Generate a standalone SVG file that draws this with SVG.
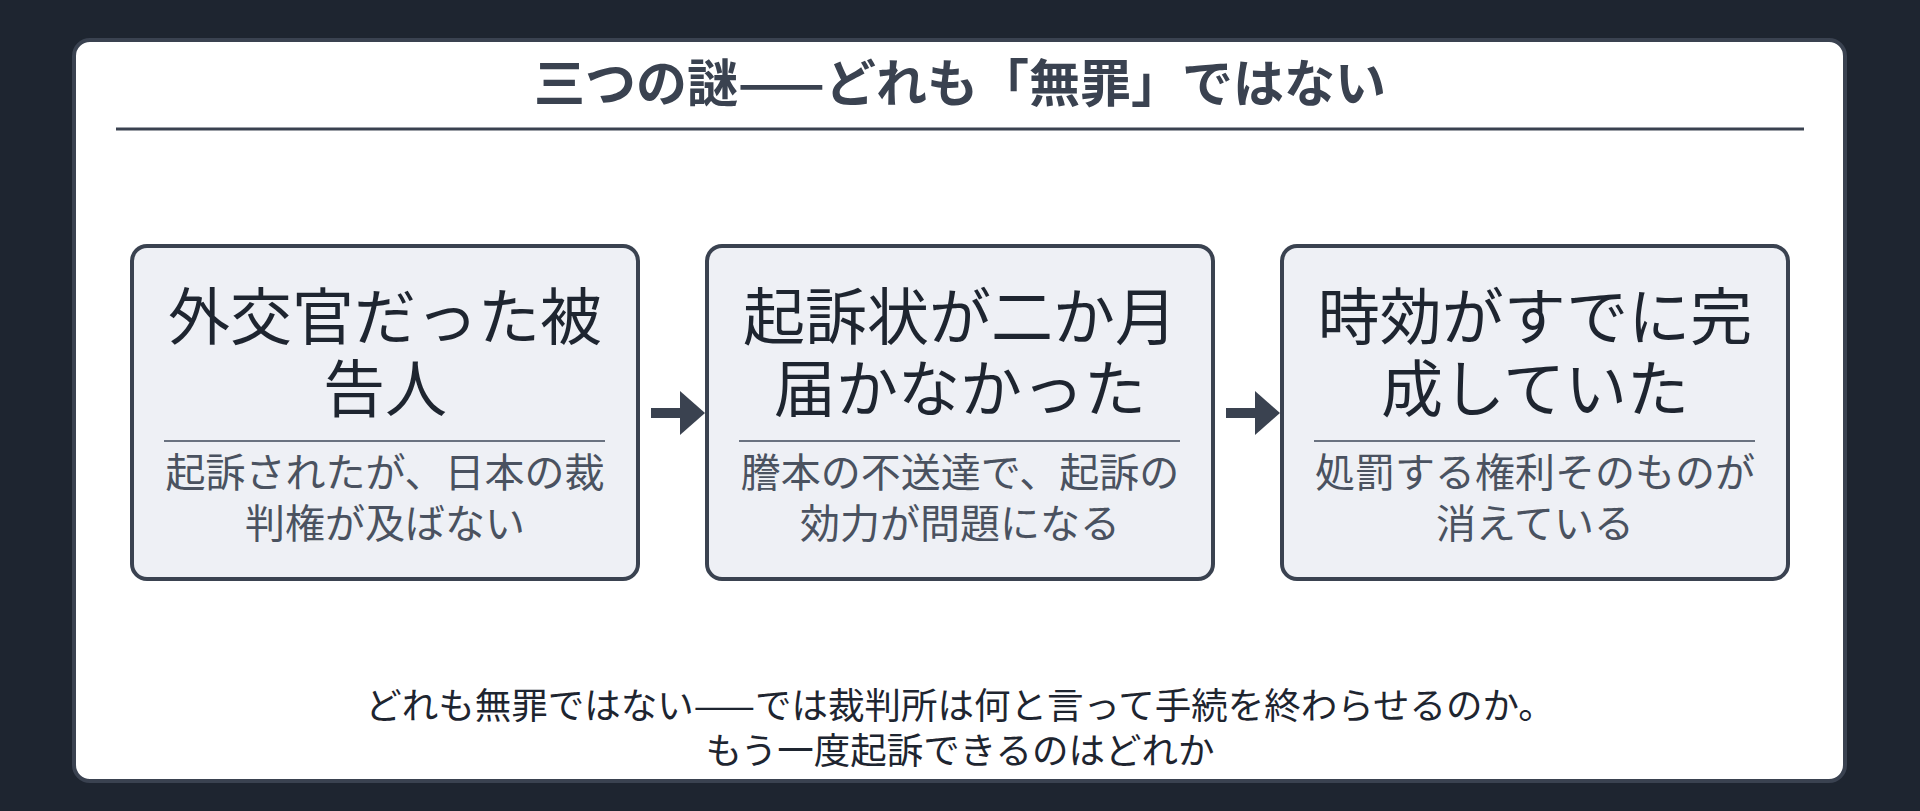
<svg xmlns="http://www.w3.org/2000/svg" width="1920" height="811" viewBox="0 0 1920 811">
<style>
text{font-family:"Noto Sans CJK JP","Noto Sans",sans-serif;text-anchor:middle}
.box{fill:#eef0f5;stroke:#3a4250;stroke-width:4}
.main{font-size:62px;fill:#1e2530}
.sub{font-size:40px;fill:#4a5260}
.div{stroke:#6a7280;stroke-width:2}
.arr{stroke:#3a4250;stroke-width:10;fill:none}
</style>
<defs><marker id="ah" markerWidth="4" markerHeight="5" refX="1.5" refY="2.2" orient="auto"><path d="M0,0L2.5,2.2L0,4.4Z" fill="#3a4250"/></marker></defs>
<rect width="1920" height="811" fill="#1e2530"/>
<rect x="74" y="40" width="1771" height="741" rx="16" fill="#fff" stroke="#3a4250" stroke-width="4"/>
<text x="960" y="102" font-size="51" font-weight="bold" fill="#3a4250">三つの謎——どれも「無罪」ではない</text>
<line x1="116" y1="129" x2="1804" y2="129" stroke="#3a4250" stroke-width="3"/>
<g id="n1"><rect class="box" x="132" y="246" width="506" height="333" rx="15"/>
<text class="main" x="385" y="340">外交官だった被</text><text class="main" x="385" y="412">告人</text>
<line class="div" x1="164" y1="441" x2="605" y2="441"/>
<text class="sub" x="385" y="487">起訴されたが、日本の裁</text><text class="sub" x="385" y="538">判権が及ばない</text></g>
<g id="n2"><rect class="box" x="707" y="246" width="506" height="333" rx="15"/>
<text class="main" x="960" y="340">起訴状が二か月</text><text class="main" x="960" y="412">届かなかった</text>
<line class="div" x1="739" y1="441" x2="1180" y2="441"/>
<text class="sub" x="960" y="487">謄本の不送達で、起訴の</text><text class="sub" x="960" y="538">効力が問題になる</text></g>
<g id="n3"><rect class="box" x="1282" y="246" width="506" height="333" rx="15"/>
<text class="main" x="1535" y="340">時効がすでに完</text><text class="main" x="1535" y="412">成していた</text>
<line class="div" x1="1314" y1="441" x2="1755" y2="441"/>
<text class="sub" x="1535" y="487">処罰する権利そのものが</text><text class="sub" x="1535" y="538">消えている</text></g>
<g id="connectors">
<line class="arr" x1="651" y1="413" x2="695" y2="413" marker-end="url(#ah)"/>
<line class="arr" x1="1226" y1="413" x2="1270" y2="413" marker-end="url(#ah)"/>
</g>
<text x="960" y="719" font-size="36.5" fill="#1e2530">どれも無罪ではない——では裁判所は何と言って手続を終わらせるのか。</text>
<text x="960" y="764" font-size="36.5" fill="#1e2530">もう一度起訴できるのはどれか</text>
</svg>
